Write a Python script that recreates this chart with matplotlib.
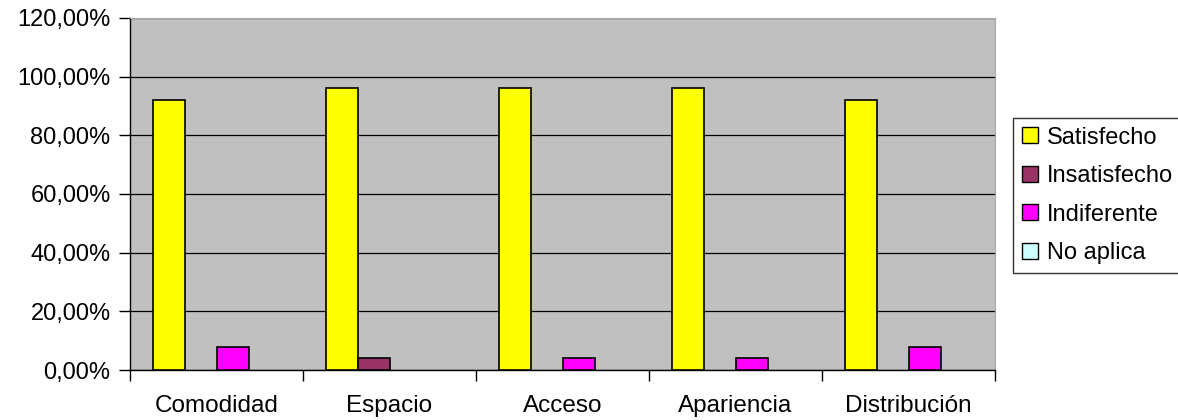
import matplotlib
matplotlib.use("Agg")
import matplotlib.pyplot as plt
import numpy as np
from matplotlib.ticker import FuncFormatter, MultipleLocator

categories = ["Comodidad", "Espacio", "Acceso", "Apariencia", "Distribución"]
series_names = ["Satisfecho", "Insatisfecho", "Indiferente", "No aplica"]
satisfecho = [0.92, 0.96, 0.96, 0.96, 0.92]
insatisfecho = [0.0, 0.04, 0.0, 0.0, 0.0]
indiferente = [0.08, 0.0, 0.04, 0.04, 0.08]
no_aplica = [0.0, 0.0, 0.0, 0.0, 0.0]
colors = ["#FFFF00", "#993366", "#FF00FF", "#CCFFFF"]

plt.rcParams['font.family'] = ['Liberation Sans', 'DejaVu Sans']

fig = plt.figure(figsize=(11.78, 4.2), dpi=100)
ax = fig.add_axes([130/1178, 1-370/420, 865/1178, 352/420])
ax.set_facecolor("#C0C0C0")

x = np.arange(len(categories))
w = 32/173
series = [satisfecho, insatisfecho, indiferente, no_aplica]
for i, (vals, name, c) in enumerate(zip(series, series_names, colors)):
    vals = np.array(vals)
    offs = (i - 1.5) * w
    mask = vals > 0
    ax.bar(x[mask] + offs, vals[mask], width=w, color=c, edgecolor="black", linewidth=1.2, zorder=3)
    ax.bar([np.nan], [0], width=w, color=c, edgecolor="black", linewidth=1.0, label=name)

ax.set_xlim(-0.5, 4.5)
ax.set_ylim(0, 1.2)
ax.yaxis.set_major_locator(MultipleLocator(0.2))
ax.yaxis.set_major_formatter(FuncFormatter(lambda v, p: f"{v*100:.2f}%".replace(".", ",")))
ax.grid(axis="y", color="black", linewidth=0.9, zorder=1)
ax.set_axisbelow(True)

ax.set_xticks(np.arange(-0.5, 5.0, 1.0), minor=False)
ax.set_xticklabels([])
ax.set_xticks(x, minor=True)
ax.set_xticklabels(categories, minor=True)
ax.tick_params(axis="x", which="major", length=8, width=1, color="black", direction="out")
ax.tick_params(axis="x", which="minor", length=0, pad=18, labelsize=17.5)
ax.tick_params(axis="y", length=8, width=1, direction="out", labelsize=17, pad=6)

for s in ["top", "right"]:
    ax.spines[s].set_color("#A8A8A8")
    ax.spines[s].set_linewidth(0.8)
ax.spines["left"].set_color("black")
ax.spines["bottom"].set_color("black")
ax.spines["left"].set_linewidth(1)
ax.spines["bottom"].set_linewidth(1)

leg = fig.legend(loc="upper left", bbox_to_anchor=(1013/1178, 1-118/420), fontsize=17,
                 frameon=True, fancybox=False, edgecolor="black", handlelength=0.68,
                 handleheight=0.68, handletextpad=0.38, labelspacing=0.7, borderpad=0.36,
                 borderaxespad=0)
leg.get_frame().set_linewidth(1)

fig.savefig("out.png", dpi=100)
